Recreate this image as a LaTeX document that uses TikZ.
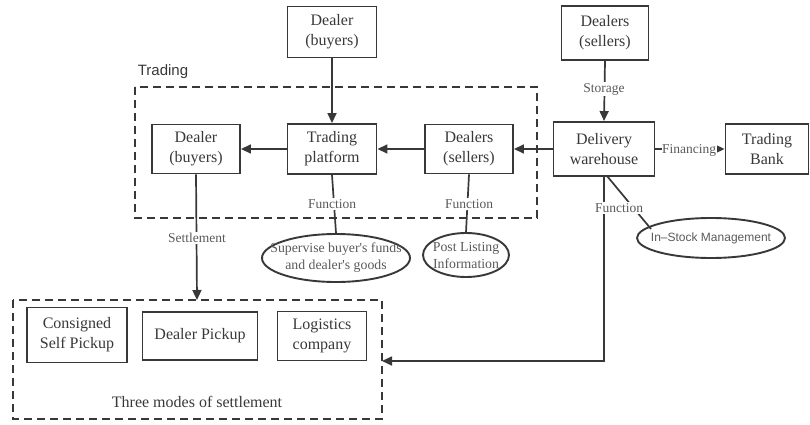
\documentclass[tikz,border=0pt]{standalone}
\usepackage{fontspec}
\setmainfont{Liberation Serif}
\setsansfont{Liberation Sans}
\usetikzlibrary{arrows.meta,shapes.geometric}
\definecolor{ink}{HTML}{383838}
\definecolor{lab}{HTML}{5A5A5A}
\tikzset{
  boxn/.style={draw=ink, line width=1.9pt, text=ink, align=center, inner sep=0pt,
    font=\fontsize{16}{20}\selectfont},
  ellnode/.style={ellipse, draw=ink, line width=1.9pt, inner sep=0pt},
  elltext/.style={text=lab, align=center, inner sep=0pt, font=\fontsize{13.8}{17}\selectfont},
  lbl/.style={fill=white, text=lab, inner sep=1.5pt, font=\fontsize{13.5}{15}\selectfont},
  conn/.style={draw=ink, line width=1.7pt},
  arr/.style={conn, -{Triangle[length=10pt,width=9pt]}},
  dashbox/.style={draw=ink, line width=1.8pt, dash pattern=on 8pt off 5pt},
}
\begin{document}
\begin{tikzpicture}[x=1pt,y=-1pt]
\useasboundingbox (0,0) rectangle (810,425);
% dashed groups
\draw[dashbox] (135,87) rectangle (537,218);
\draw[dashbox] (13,300) rectangle (382,419);
\node[text=ink, font=\sffamily\fontsize{15}{18}\selectfont] (tradlbl) at (163,72) {Trading};
\node[text=ink, font=\fontsize{16}{20}\selectfont] (threelbl) at (197,402) {Three modes of settlement};
% boxes
\node[boxn, minimum width=89pt, minimum height=51pt] (dbtop) at (332,32) {Dealer\\(buyers)};
\node[boxn, minimum width=87pt, minimum height=54pt] (dstop) at (605,33) {Dealers\\(sellers)};
\node[boxn, minimum width=88pt, minimum height=49pt] (dbl) at (196,149) {Dealer\\(buyers)};
\node[boxn, minimum width=89pt, minimum height=50pt] (tp) at (332,149) {Trading\\platform};
\node[boxn, minimum width=88pt, minimum height=49pt] (dsm) at (469,149) {Dealers\\(sellers)};
\node[boxn, minimum width=101pt, minimum height=54pt] (dw) at (604,149) {Delivery\\warehouse};
\node[boxn, minimum width=83pt, minimum height=50pt] (bank) at (767,149) {Trading\\Bank};
\node[boxn, minimum width=100pt, minimum height=55pt] (cs) at (77,335) {Consigned\\Self Pickup};
\node[boxn, minimum width=115pt, minimum height=48pt] (dp) at (200,336) {Dealer Pickup};
\node[boxn, minimum width=89pt, minimum height=49pt] (lc) at (322,336) {Logistics\\company};
% ellipses
\node[ellnode, minimum width=148pt, minimum height=48pt,
  label={[elltext]center:{Supervise buyer\textquotesingle s funds\\and dealer\textquotesingle s goods}}] (e1) at (336,258) {};
\node[ellnode, minimum width=86pt, minimum height=44pt,
  label={[elltext]center:{Post Listing\\Information}}] (e2) at (466,255) {};
\node[ellnode, minimum width=148pt, minimum height=40pt,
  label={[elltext, font=\sffamily\fontsize{12}{14}\selectfont]center:{In--Stock Management}}] (e3) at (711,238) {};
% coordinates
\coordinate (stop) at (197,300);
\coordinate (ltop) at (382,361);
\coordinate (corner) at (604,361);
\coordinate (dwb) at (607,176);
\coordinate (e3a) at (651,229);
% connectors
\draw[arr] (dbtop.south) -- (tp.north);
\draw[arr] (tp.west) -- (dbl.east);
\draw[arr] (dsm.west) -- (tp.east);
\draw[arr] (dw.west) -- (dsm.east);
\draw[arr] (dstop.south) -- (dw.north);
\node[lbl] (storage) at (604,89) {Storage};
\draw[arr] (dw.east) -- (bank.west);
\node[lbl, inner sep=0.5pt] (fin) at (689,150) {Financing};
\draw[conn] (tp.south) -- (e1.north);
\node[lbl] (f1) at (332,204) {Function};
\draw[conn] (dsm.south) -- (e2.north);
\node[lbl] (f2) at (469,204) {Function};
\draw[arr] (dbl.south) -- (stop);
\node[lbl] (settle) at (197,238) {Settlement};
\draw[conn, -{Triangle[length=10pt,width=9pt]}] (dw.south) -- (corner) -- (ltop);
\draw[conn] (dwb) -- (e3a);
\node[lbl] (f3) at (619,208) {Function};
\end{tikzpicture}
\end{document}
